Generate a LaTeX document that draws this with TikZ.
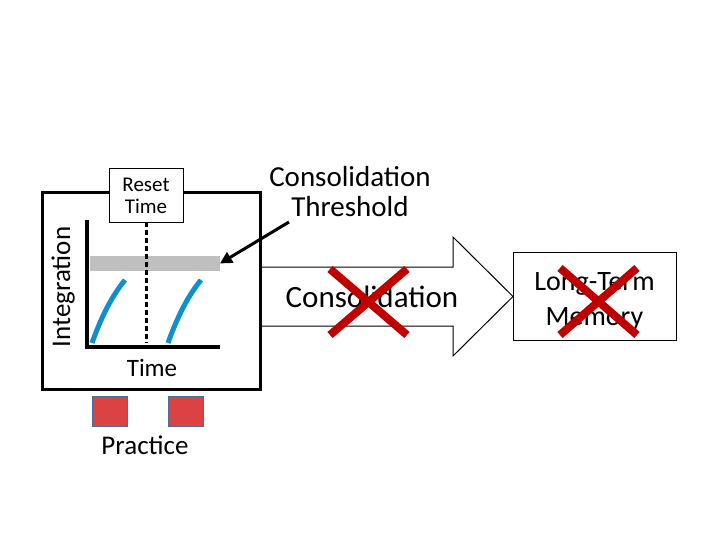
\documentclass[tikz,border=0pt]{standalone}
\usepackage{fontspec}
\setmainfont{Carlito}
\usepackage{xcolor}
\usetikzlibrary{positioning, arrows.meta}
\definecolor{crossred}{HTML}{C00000}
\definecolor{curveblue}{HTML}{0E90CE}
\definecolor{practred}{HTML}{DB4343}
\definecolor{trialedge}{HTML}{41719C}
\tikzset{
	frame/.style={draw, line width=3pt},
	thinbox/.style={draw, line width=1pt, fill=white, inner sep=0pt},
	axis/.style={line width=4pt},
	cross/.style={crossred, line width=8pt}
}
\newcommand{\fs}[2]{\fontsize{#1}{#2}\selectfont}

\begin{document}
\begin{tikzpicture}[
	x=1pt, y=-1pt,
	lbl/.style={inner sep=0pt, align=center},
	trial/.style={draw=trialedge, line width=0.5pt, fill=practred, minimum width=35pt, minimum height=30pt, inner sep=0pt},
	node distance=10pt]
	\useasboundingbox (0,0) rectangle (720,540);
	% graph panel
	\fill[gray!50] (90,256) rectangle (220,271);
	\draw[line width=3pt, dash pattern=on 5pt off 3pt] (146,222) -- (146,343);
	\draw[curveblue, line width=5pt] (92,343) .. controls (101,318) and (111,297) .. (125,280);
	\draw[curveblue, line width=5pt] (168,343) .. controls (177,318) and (187,297) .. (201,280);
	\draw[axis] (87,220) -- (87,347) -- (220,347);
	\node[frame, minimum width=218pt, minimum height=196pt] (panel) at (151,291) {};
	\node[thinbox, minimum width=74pt, minimum height=54pt, lbl, font=\fs{21}{22}] (reset) at (146,196) {Reset\\Time};
	\node[lbl, rotate=90, font=\fs{27}{30}] (integ) at (63,287) {Integration};
	\node[lbl, font=\fs{25}{30}] (time) at (152,368) {Time};
	% practice trials
	\node[trial] (p1) at (109.5,411) {};
	\node[trial] (p2) at (185.5,411) {};
	\node[lbl, font=\fs{27}{30}] (practice) at (145,445) {Practice};
	% threshold label
	\node[lbl, font=\fs{29}{30}] (thr) at (350,192) {Consolidation\\Threshold};
	\coordinate (barend) at (220,263.5);
	\coordinate (thrfoot) at (289,222);
	\draw[line width=3pt, -{Triangle[length=12pt, width=12pt]}] (thrfoot) -- (barend);
	% consolidation arrow
	\draw[line width=1pt, fill=white] (261,267) -- (453,267) -- (453,237) -- (513,296.5)
		-- (453,356) -- (453,326) -- (261,326) -- cycle;
	\draw[line width=3pt] (260,267) -- (260,326);
	\node[lbl, font=\fs{31}{34}] (consol) at (372,297) {Consolidation};
	\node[thinbox, minimum width=163pt, minimum height=88pt] (ltm) at (594.5,296) {};
	\node[lbl, font=\fs{28}{35}] (ltmtext) at (594.5,301) {Long-Term\\Memory};
	% blocked
	\draw[cross] (330,269) -- (407,335);
	\draw[cross] (407,269) -- (330,335);
	\draw[cross] (560,268) -- (637,335);
	\draw[cross] (637,268) -- (560,335);
\end{tikzpicture}
\end{document}
